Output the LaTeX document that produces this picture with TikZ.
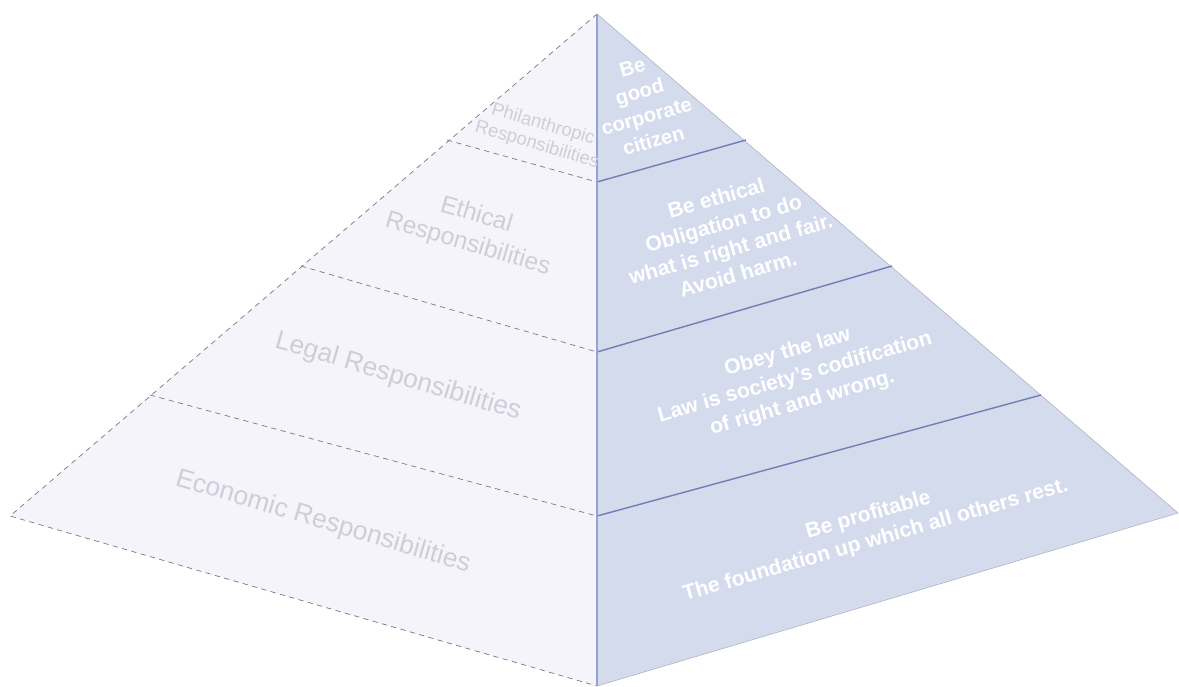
\documentclass[tikz,border=0pt]{standalone}
\usepackage{fontspec}
\setmainfont{Liberation Sans}

\definecolor{leftfill}{RGB}{244,244,250}
\definecolor{rightfill}{RGB}{212,219,237}
\definecolor{bandline}{RGB}{112,126,184}
\definecolor{dashgray}{RGB}{120,120,135}
\definecolor{frontedge}{RGB}{150,162,212}
\definecolor{embossgray}{RGB}{206,206,218}

\begin{document}
\begin{tikzpicture}[
x=0.02cm, y=-0.02cm,
lefttext/.style={align=center, text=embossgray, rotate=-16.5, font=\fontsize{15}{18}\selectfont},
righttext/.style={align=center, text=white, rotate=16, font=\bfseries\fontsize{12}{15}\selectfont},
dashedge/.style={draw=dashgray, line width=0.4pt, dash pattern=on 3pt off 2.5pt},
bandedge/.style={draw=bandline, line width=0.8pt}
]
\useasboundingbox (0,0) rectangle (1179,686);
% corners of the pyramid
\coordinate (apex) at (597,14);
\coordinate (lc) at (10,516);
\coordinate (fc) at (597,686);
\coordinate (rc) at (1178,513);
% band borders
\coordinate (l1) at (447,140);
\coordinate (f1) at (597,182);
\coordinate (r1) at (746,140);
\coordinate (l2) at (301,266);
\coordinate (f2) at (597,352);
\coordinate (r2) at (892,266);
\coordinate (l3) at (150,395);
\coordinate (f3) at (597,516);
\coordinate (r3) at (1041,395);
% faces
\fill[leftfill] (apex) -- (lc) -- (fc) -- cycle;
\fill[rightfill] (apex) -- (fc) -- (rc) -- cycle;
\draw[dashedge] (apex) -- (lc) -- (fc);
\draw[draw=rightfill!80!black, line width=0.3pt] (apex) -- (rc) -- (fc);
\draw[dashedge] (l1) -- (f1);
\draw[dashedge] (l2) -- (f2);
\draw[dashedge] (l3) -- (f3);
\draw[bandedge] (f1) -- (r1);
\draw[bandedge] (f2) -- (r2);
\draw[bandedge] (f3) -- (r3);
\draw[frontedge, line width=1.2pt] (apex) -- (fc);
% labels, left face
\node[lefttext, font=\fontsize{10.5}{12}\selectfont] (phil) at (540,135) {Philanthropic\\Responsibilities};
\node[lefttext, font=\fontsize{14}{17}\selectfont] (ethic) at (472,230) {Ethical\\Responsibilities};
\node[lefttext] (legal) at (398,377) {Legal Responsibilities};
\node[lefttext] (econ) at (323,522) {Economic Responsibilities};
% labels, right face
\node[righttext, font=\bfseries\fontsize{11.5}{14.5}\selectfont] (philtxt) at (643,104) {Be\\good\\corporate\\citizen};
\node[righttext] (ethictxt) at (727,236) {Be ethical\\Obligation to do\\what is right and fair.\\Avoid harm.};
\node[righttext] (legaltxt) at (795,378) {Obey the law\\Law is society's codification\\of right and wrong.};
\node[righttext] (econtxt) at (872,528) {Be profitable\\The foundation up which all others rest.};
\end{tikzpicture}
\end{document}
